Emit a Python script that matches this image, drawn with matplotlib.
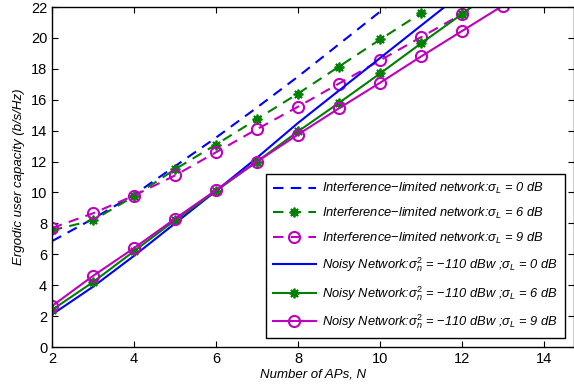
import matplotlib
matplotlib.use("Agg")
import matplotlib.pyplot as plt

plt.rcParams['font.family'] = ['Liberation Sans', 'DejaVu Sans']
plt.rcParams['mathtext.fontset'] = 'custom'
plt.rcParams['mathtext.rm'] = 'Liberation Sans'
plt.rcParams['mathtext.it'] = 'Liberation Sans:italic'
plt.rcParams['mathtext.sf'] = 'Liberation Sans'

N = [2, 3, 4, 5, 6, 7, 8, 9, 10, 11, 12, 13, 14]

int_s0 = [6.85, 8.3, 9.85, 11.7, 13.55, 15.5, 17.5, 19.6, 21.7, 23.8, 25.9, 28.0, 30.1]
int_s6 = [7.55, 8.2, 9.75, 11.5, 13.1, 14.75, 16.4, 18.15, 19.9, 21.6, 23.3, 25.0, 26.7]
int_s9 = [7.7, 8.65, 9.8, 11.1, 12.6, 14.1, 15.55, 17.05, 18.55, 20.05, 21.55, 23.05, 24.55]
noisy_s0 = [2.1, 3.9, 5.9, 8.0, 10.1, 12.25, 14.5, 16.6, 18.7, 20.8, 22.9, 25.0, 27.1]
noisy_s6 = [2.4, 4.2, 6.2, 8.2, 10.1, 12.0, 13.95, 15.8, 17.7, 19.65, 21.55, 23.5, 25.4]
noisy_s9 = [2.65, 4.6, 6.4, 8.3, 10.15, 12.0, 13.75, 15.45, 17.1, 18.8, 20.45, 22.1, 23.8]

labels = [
    r"Interference$-$limited network:$\sigma_L$ = 0 dB",
    r"Interference$-$limited network:$\sigma_L$ = 6 dB",
    r"Interference$-$limited network:$\sigma_L$ = 9 dB",
    r"Noisy Network:$\sigma_n^2$ = $-$110 dBw ;$\sigma_L$ = 0 dB",
    r"Noisy Network:$\sigma_n^2$ = $-$110 dBw ;$\sigma_L$ = 6 dB",
    r"Noisy Network:$\sigma_n^2$ = $-$110 dBw ;$\sigma_L$ = 9 dB",
]

blue = (0, 0, 1)
green = (0, 0.5, 0)
mag = (0.75, 0, 0.75)
star = (8, 2, 0)

fig = plt.figure(figsize=(5.74, 3.85), dpi=100)
ax = fig.add_axes([0.0906, 0.0987, 0.9094, 0.883])

lw = 1.5
dsh = (5, 3.5)
ax.plot(N, int_s0, '--', color=blue, lw=lw, dashes=dsh, label=labels[0])
ax.plot(N, int_s6, '--', color=green, lw=lw, dashes=dsh, marker=star, ms=7, mew=1.3, label=labels[1])
ax.plot(N, int_s9, '--', color=mag, lw=lw, dashes=dsh, marker='o', ms=8, mew=1.5, mfc='none', label=labels[2])
ax.plot(N, noisy_s0, '-', color=blue, lw=lw, label=labels[3])
ax.plot(N, noisy_s6, '-', color=green, lw=lw, marker=star, ms=7, mew=1.3, label=labels[4])
ax.plot(N, noisy_s9, '-', color=mag, lw=lw, marker='o', ms=8, mew=1.5, mfc='none', label=labels[5])

ax.set_xlim(2, 14.73)
ax.set_ylim(0, 22)
ax.set_xticks([2, 4, 6, 8, 10, 12, 14])
ax.set_yticks(range(0, 23, 2))
ax.tick_params(direction='in', top=True, right=True, labelsize=10.5, length=4, width=0.8)
for s in ax.spines.values():
    s.set_linewidth(1.0)
ax.set_xlabel('Number of APs, N', fontsize=9.5, style='italic', labelpad=2)
ax.set_ylabel('Ergodic user capacity (b/s/Hz)', fontsize=9.5, style='italic', labelpad=4)

leg = ax.legend(loc='lower left', bbox_to_anchor=(0.41, 0.026),
                prop={'size': 9.3, 'style': 'italic'}, numpoints=1, handlelength=3.3,
                fancybox=False, framealpha=1, edgecolor='black', borderpad=0.55,
                labelspacing=0.75, handletextpad=0.5, borderaxespad=0)
leg.get_frame().set_linewidth(1.0)

fig.savefig('out.png', dpi=100)
